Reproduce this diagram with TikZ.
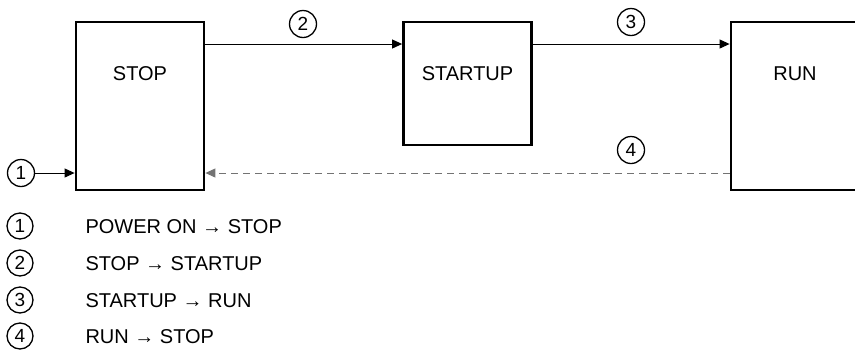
\documentclass[tikz,border=0pt]{standalone}
\usepackage{fontspec}
\setmainfont{Liberation Sans}
\usetikzlibrary{arrows.meta}
\begin{document}
\begin{tikzpicture}[x=1pt,y=-1pt,
  statebox/.style={draw, line width=2.8pt, minimum width=128pt, inner sep=0pt},
  boxlabel/.style={font=\fontsize{20}{24}\selectfont, anchor=base},
  num/.style={draw, circle, line width=1.3pt, minimum size=27pt, inner sep=0pt,
    font=\fontsize{19}{22}\selectfont},
  legnum/.style={num, minimum size=26pt},
  legtext/.style={font=\fontsize{20}{24}\selectfont, anchor=base west},
  flow/.style={line width=1pt, -{Triangle[length=10pt,width=9pt]}},
  backflow/.style={flow, draw=black!55, dash pattern=on 7pt off 5pt}]
\useasboundingbox (0,0) rectangle (855,349);
\begin{scope}
\clip (0,0) rectangle (855,349);
% state boxes
\node[statebox, minimum height=168pt] (stop) at (140,106) {};
\node[statebox, minimum height=123pt] (startup) at (467.5,83.5) {};
\node[statebox, minimum height=168pt] (run) at (795,106) {};
\end{scope}
\node[boxlabel] (stoptxt) at (140,80) {STOP};
\node[boxlabel] (startuptxt) at (467.5,80) {STARTUP};
\node[boxlabel] (runtxt) at (795,80) {RUN};

% transition markers
\node[num] (n1) at (21,173) {1};
\node[num] (n2) at (303,24) {2};
\node[num] (n3) at (631,22) {3};
\node[num] (n4) at (631,150) {4};

% transitions
\coordinate (s2) at (stop.east |- 0,44);
\coordinate (t2) at (startup.west |- 0,44);
\coordinate (s3) at (startup.east |- 0,44);
\coordinate (t3) at (run.west |- 0,44);
\coordinate (s4) at (run.west |- 0,173);
\coordinate (t4) at (stop.east |- 0,173);
\coordinate (t1) at (stop.west |- 0,173);
\draw[flow] (n1) -- (t1);
\draw[flow] (s2) -- (t2);
\draw[flow] (s3) -- (t3);
\draw[backflow] (s4) -- (t4);

% legend
\node[legnum] (l1) at (20,226) {1};
\node[legnum] (l2) at (20,263) {2};
\node[legnum] (l3) at (20,300) {3};
\node[legnum] (l4) at (20,336) {4};
\node[legtext] (d1) at (82,233) {POWER ON → STOP};
\node[legtext] (d2) at (82,270) {STOP → STARTUP};
\node[legtext] (d3) at (82,307) {STARTUP → RUN};
\node[legtext] (d4) at (82,343) {RUN → STOP};
\end{tikzpicture}
\end{document}
